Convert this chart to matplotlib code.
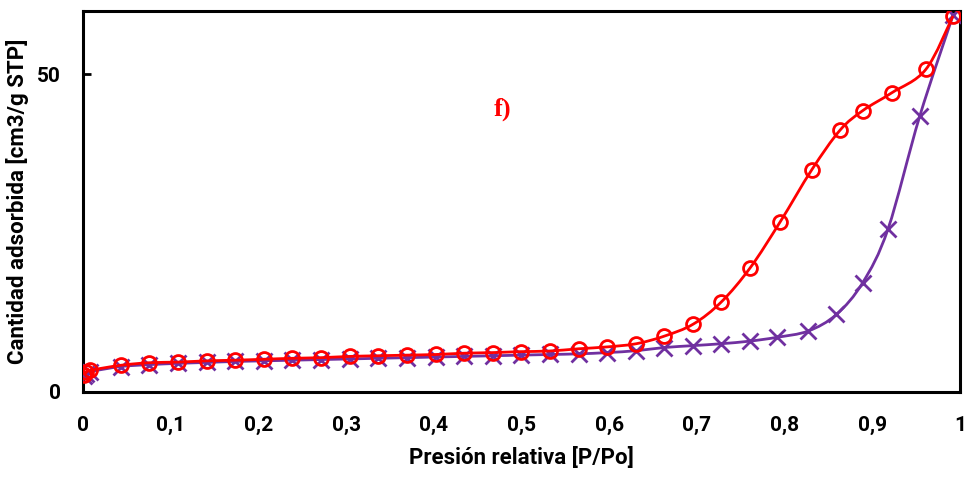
import numpy as np
import matplotlib
matplotlib.use("Agg")
from matplotlib import pyplot as plt
from matplotlib.path import Path
from matplotlib.patches import PathPatch

# adsorcion (purple x)
x_ads = [0.001, 0.004, 0.008, 0.043, 0.075, 0.108, 0.141, 0.173, 0.206, 0.238,
         0.271, 0.304, 0.336, 0.369, 0.402, 0.434, 0.467, 0.499, 0.532,
         0.565, 0.598, 0.631, 0.663, 0.696, 0.728, 0.760, 0.791, 0.827,
         0.859, 0.889, 0.918, 0.954, 0.992]
y_ads = [2.5, 2.9, 3.2, 4.0, 4.3, 4.5, 4.65, 4.8, 4.9, 5.0,
         5.1, 5.2, 5.3, 5.4, 5.5, 5.6, 5.7, 5.8, 5.9,
         6.0, 6.2, 6.5, 7.0, 7.3, 7.6, 8.0, 8.6, 9.6,
         12.2, 17.2, 25.7, 43.4, 59.3]

# desorcion (red circles)
x_des = [0.001, 0.004, 0.008, 0.043, 0.075, 0.108, 0.141, 0.173, 0.206, 0.238,
         0.271, 0.304, 0.336, 0.369, 0.402, 0.434, 0.467, 0.499, 0.532,
         0.565, 0.598, 0.631, 0.663, 0.696, 0.728, 0.761, 0.795, 0.831,
         0.863, 0.889, 0.922, 0.961, 0.992]
y_des = [2.7, 3.1, 3.4, 4.2, 4.6, 4.7, 4.9, 5.0, 5.15, 5.3,
         5.4, 5.6, 5.7, 5.8, 5.9, 6.1, 6.2, 6.35, 6.45,
         6.8, 7.1, 7.6, 8.8, 10.7, 14.2, 19.6, 26.8, 35.0,
         41.2, 44.3, 47.1, 50.8, 59.2]

x_ticks = [0, 0.1, 0.2, 0.3, 0.4, 0.5, 0.6, 0.7, 0.8, 0.9, 1]
x_labels = ["0", "0,1", "0,2", "0,3", "0,4", "0,5", "0,6", "0,7", "0,8", "0,9", "1"]
y_ticks = [0, 50]

RED = "#FF0000"
PURPLE = "#7030A0"
FONT = ["Roboto", "DejaVu Sans"]


def smooth_path(x, y):
    # excel-like smoothed line, bezier segments through the points
    P = np.column_stack([x, y])
    n = len(P)
    verts = [P[0]]
    codes = [Path.MOVETO]
    for i in range(n - 1):
        p0 = P[i - 1] if i > 0 else P[i]
        p3 = P[i + 2] if i + 2 < n else P[i + 1]
        c1 = P[i] + (P[i + 1] - p0) / 6.0
        c2 = P[i + 1] - (p3 - P[i]) / 6.0
        verts += [c1, c2, P[i + 1]]
        codes += [Path.CURVE4] * 3
    return Path(verts, codes)


fig = plt.figure(figsize=(9.66, 4.78), dpi=100)
ax = fig.add_axes([0.0859, 0.180, 0.9079, 0.797])

ax.add_patch(PathPatch(smooth_path(x_ads, y_ads), fill=False, ec=PURPLE, lw=2.0, zorder=2))
ax.plot(x_ads, y_ads, ls="none", marker="x", ms=11, mew=2.0, color=PURPLE, zorder=3)

ax.add_patch(PathPatch(smooth_path(x_des, y_des), fill=False, ec=RED, lw=2.0, zorder=4))
ax.plot(x_des, y_des, ls="none", marker="o", ms=10, mew=2.0, mfc="none", mec=RED, zorder=5)

ax.set_xlim(0, 1)
ax.set_ylim(0, 60)
ax.set_xticks(x_ticks)
ax.set_xticklabels(x_labels)
ax.set_yticks(y_ticks)

for s in ax.spines.values():
    s.set_linewidth(2.2)

ax.tick_params(axis="x", length=0, pad=17)
ax.tick_params(axis="y", direction="in", length=6, width=2, pad=16)
for lab in ax.get_xticklabels() + ax.get_yticklabels():
    lab.set_family(FONT)
    lab.set_fontweight("bold")
    lab.set_fontsize(15)

ax.set_xlabel("Presión relativa [P/Po]", family=FONT, fontweight="bold", fontsize=16, labelpad=9)
ax.set_ylabel("Cantidad adsorbida [cm3/g STP]", family=FONT, fontweight="bold", fontsize=16)
ax.yaxis.set_label_coords(-0.061, 0.5)

ax.text(0.468, 43.6, "f)", color=RED, family=["Liberation Serif", "DejaVu Serif"],
        fontweight="bold", fontsize=19, va="baseline")

fig.savefig("out.png", dpi=100)
